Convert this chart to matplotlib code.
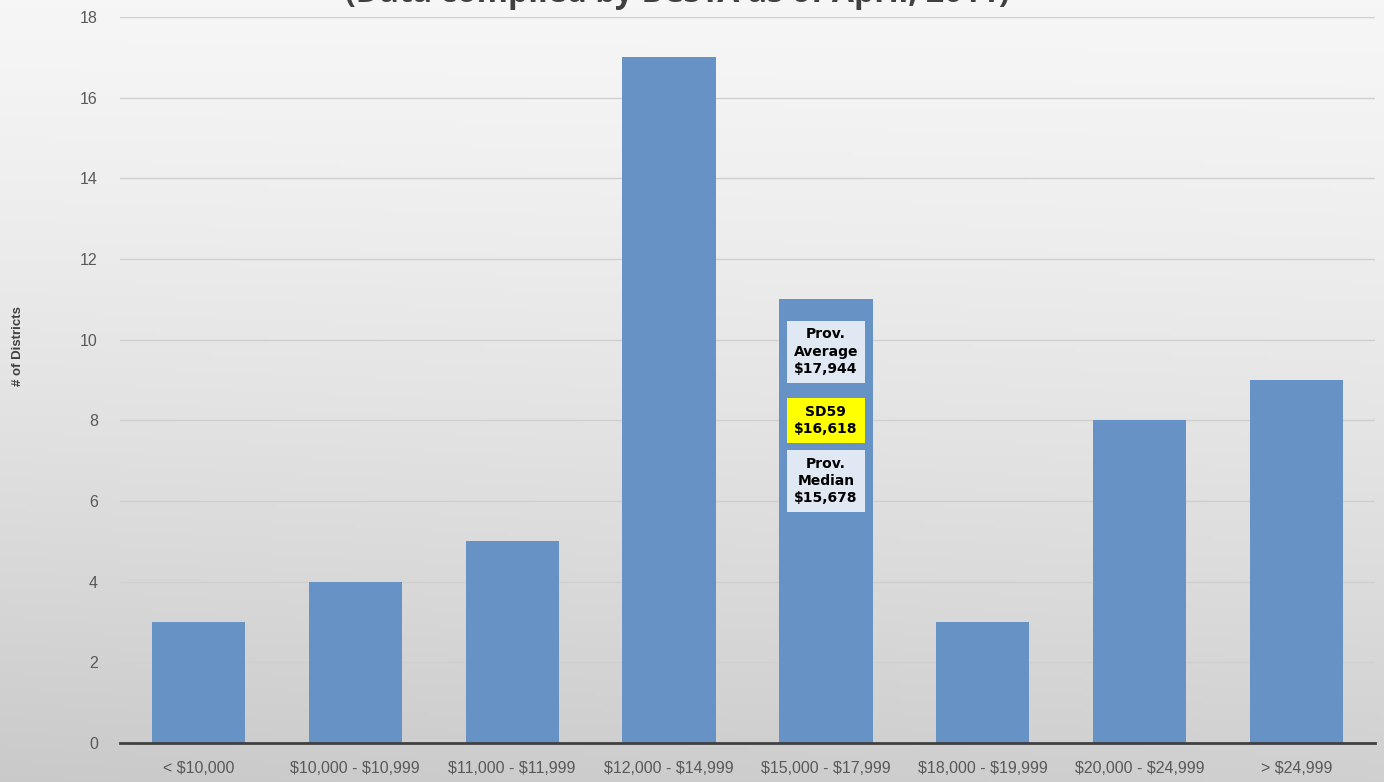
import numpy as np
import matplotlib
matplotlib.use("Agg")
import matplotlib.pyplot as plt

plt.rcParams["text.parse_math"] = False

categories = ["< $10,000", "$10,000 - $10,999", "$11,000 - $11,999", "$12,000 - $14,999",
              "$15,000 - $17,999", "$18,000 - $19,999", "$20,000 - $24,999", "> $24,999"]
districts = [3, 4, 5, 17, 11, 3, 8, 9]
yticks = [0, 2, 4, 6, 8, 10, 12, 14, 16, 18]

title = "(Data compiled by BCSTA as of April, 2011)"
ylabel = "# of Districts"

annot_texts = ["Prov.\nAverage\n$17,944", "SD59\n$16,618", "Prov.\nMedian\n$15,678"]
annot_y = [9.7, 8.0, 6.5]
annot_colors = ["#dfe8f3", "#ffff00", "#dfe8f3"]
annot_bar = 4

W, H = 1384, 782
fig = plt.figure(figsize=(W / 100, H / 100), dpi=100)

# background gradient
bg = fig.add_axes([0, 0, 1, 1], zorder=-10)
yy, xx = np.mgrid[0:1:200j, 0:1:300j]
val = 0.965 - 0.15 * yy ** 1.3 - 0.025 * yy * (1 - xx)
bg.imshow(np.dstack([val, val, val]), aspect="auto", extent=[0, 1, 1, 0])
bg.set_axis_off()

ax = fig.add_axes([120 / W, 39 / H, 1255 / W, 726 / H])
ax.patch.set_alpha(0)
x = np.arange(len(categories))
ax.bar(x, districts, width=0.595, color="#6692c6", zorder=3)
ax.set_xlim(-0.5, len(categories) - 0.5)
ax.set_ylim(0, 18)
ax.set_yticks(yticks)
ax.set_xticks(x)
ax.set_xticklabels(categories)
ax.grid(axis="y", color="#cfcfcf", linewidth=1.0, zorder=0)
for s in ["top", "right", "left"]:
    ax.spines[s].set_visible(False)
ax.spines["bottom"].set_color("#404040")
ax.spines["bottom"].set_linewidth(2.0)
ax.spines["bottom"].set_zorder(4)
ax.tick_params(axis="both", length=0, colors="#595959")
ax.tick_params(axis="y", pad=16)
ax.tick_params(axis="x", pad=13)
for lab in ax.get_xticklabels() + ax.get_yticklabels():
    lab.set_family(["Liberation Sans Narrow", "Liberation Sans", "DejaVu Sans"])
    lab.set_fontsize(11.5)

fig.text(18 / W, 1 - 346 / H, ylabel, rotation=90, ha="center", va="center",
         fontsize=9.5, fontweight="bold", color="#404040",
         family=["Liberation Sans Narrow", "Liberation Sans", "DejaVu Sans"])

fig.text(677 / W, 1 - 2 / H, title, ha="center", va="baseline", fontsize=23,
         fontweight="bold", color="#404040", family=["Open Sans", "DejaVu Sans"])

for txt, yv, c in zip(annot_texts, annot_y, annot_colors):
    ax.text(annot_bar, yv, txt, ha="center", va="center", fontsize=10, fontweight="bold",
            color="black", linespacing=1.3, zorder=5,
            bbox=dict(boxstyle="square,pad=0.5", facecolor=c, edgecolor="none"),
            family=["DejaVu Sans"])

fig.savefig("out.png", dpi=100)
